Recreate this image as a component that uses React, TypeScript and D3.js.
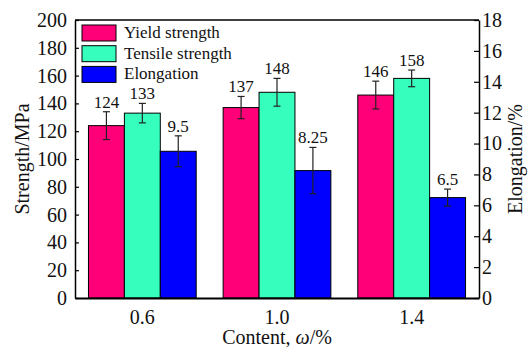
import React, { useRef, useEffect } from 'react';
import * as d3 from 'd3';

// data
const contents = ['0.6', '1.0', '1.4'];
const yieldStrength = [124, 137, 146];
const yieldErr = [10, 8, 10];
const tensileStrength = [133, 148, 158];
const tensileErr = [7, 10, 6];
const elongation = [9.5, 8.25, 6.5];
const elongationErr = [1, 1.5, 0.55];
const elongationLabels = ['9.5', '8.25', '6.5'];

const seriesNames = ['Yield strength', 'Tensile strength', 'Elongation'];
const seriesColors = ['#ff0078', '#36ffbe', '#0000ff'];

const leftTicks = [0, 20, 40, 60, 80, 100, 120, 140, 160, 180, 200];
const rightTicks = [0, 2, 4, 6, 8, 10, 12, 14, 16, 18];

const FONT = 'Liberation Serif, DejaVu Serif, serif';

const App = () => {
    const svgRef = useRef<SVGSVGElement>(null);
    const width = 531;
    const height = 350;

    useEffect(() => {
        const svg = d3.select(svgRef.current)
            .attr('width', width)
            .attr('height', height)
            .attr('font-family', FONT);

        svg.selectAll('*').remove();

        const margin = { top: 20, right: 52, bottom: 52, left: 75 };
        const innerWidth = width - margin.left - margin.right;
        const innerHeight = height - margin.top - margin.bottom;

        const g = svg.append('g')
            .attr('transform', `translate(${margin.left}, ${margin.top})`)
            .attr('font-family', FONT);

        const x0 = d3.scaleBand()
            .domain(contents)
            .range([0, innerWidth])
            .paddingInner(0.2)
            .paddingOuter(0.1);

        const x1 = d3.scaleBand()
            .domain(['0', '1', '2'])
            .range([0, x0.bandwidth()]);

        const yLeft = d3.scaleLinear().domain([0, 200]).range([innerHeight, 0]);
        const yRight = d3.scaleLinear().domain([0, 18]).range([innerHeight, 0]);

        // rows: one per group, three bars each
        const rows = contents.map((c, i) => ([
            { c, s: 0, v: yieldStrength[i], e: yieldErr[i], label: String(yieldStrength[i]), y: yLeft },
            { c, s: 1, v: tensileStrength[i], e: tensileErr[i], label: String(tensileStrength[i]), y: yLeft },
            { c, s: 2, v: elongation[i], e: elongationErr[i], label: elongationLabels[i], y: yRight },
        ]));
        const bars = rows.flat();

        g.selectAll('.bar')
            .data(bars)
            .enter()
            .append('rect')
            .attr('class', 'bar')
            .attr('x', d => x0(d.c)! + x1(String(d.s))!)
            .attr('y', d => d.y(d.v))
            .attr('width', x1.bandwidth())
            .attr('height', d => innerHeight - d.y(d.v))
            .attr('fill', d => seriesColors[d.s])
            .attr('stroke', '#000')
            .attr('stroke-width', 1);

        // error bars
        const cx = d => x0(d.c)! + x1(String(d.s))! + x1.bandwidth() / 2;
        const err = g.selectAll('.err')
            .data(bars)
            .enter()
            .append('g')
            .attr('class', 'err')
            .attr('stroke', '#222')
            .attr('stroke-width', 1.2);
        err.append('line')
            .attr('x1', cx).attr('x2', cx)
            .attr('y1', d => d.y(d.v + d.e))
            .attr('y2', d => d.y(d.v - d.e));
        err.append('line')
            .attr('x1', d => cx(d) - 3.5).attr('x2', d => cx(d) + 3.5)
            .attr('y1', d => d.y(d.v + d.e)).attr('y2', d => d.y(d.v + d.e));
        err.append('line')
            .attr('x1', d => cx(d) - 3.5).attr('x2', d => cx(d) + 3.5)
            .attr('y1', d => d.y(d.v - d.e)).attr('y2', d => d.y(d.v - d.e));

        // value labels
        g.selectAll('.val')
            .data(bars)
            .enter()
            .append('text')
            .attr('class', 'val')
            .attr('x', cx)
            .attr('y', d => d.y(d.v + d.e) - 4)
            .attr('text-anchor', 'middle')
            .attr('font-family', FONT)
            .attr('font-size', 17)
            .attr('fill', '#111')
            .text(d => d.label);

        // axes
        const leftAxis = d3.axisLeft(yLeft)
            .tickValues(leftTicks)
            .tickSizeInner(-4)
            .tickSizeOuter(0)
            .tickPadding(8);
        const gl = g.append('g').call(leftAxis);

        const rightAxis = d3.axisRight(yRight)
            .tickValues(rightTicks)
            .tickSizeInner(-5)
            .tickSizeOuter(0)
            .tickPadding(3);
        const gr = g.append('g')
            .attr('transform', `translate(${innerWidth}, 0)`)
            .call(rightAxis);

        const bottomAxis = d3.axisBottom(x0).tickSize(0).tickPadding(12);
        const gb = g.append('g')
            .attr('transform', `translate(0, ${innerHeight})`)
            .call(bottomAxis);

        [gl, gr, gb].forEach(a => {
            a.attr('font-family', FONT).attr('font-size', 20);
            a.selectAll('text')
                .attr('fill', '#111');
            a.selectAll('line').attr('stroke', '#000').attr('stroke-width', 1.2);
            a.select('.domain').attr('stroke', '#000').attr('stroke-width', 1.5);
        });
        gb.select('.domain').attr('stroke-width', 2);

        // top frame line
        g.append('line')
            .attr('x1', 0).attr('x2', innerWidth)
            .attr('y1', 0).attr('y2', 0)
            .attr('stroke', '#000')
            .attr('stroke-width', 1.5);

        // axis titles
        g.append('text')
            .attr('transform', `translate(${-46}, ${innerHeight / 2}) rotate(-90)`)
            .attr('text-anchor', 'middle')
            .attr('font-family', FONT)
            .attr('font-size', 20)
            .attr('fill', '#111')
            .text('Strength/MPa');

        g.append('text')
            .attr('transform', `translate(${innerWidth + 43}, ${innerHeight / 2}) rotate(-90)`)
            .attr('text-anchor', 'middle')
            .attr('font-family', FONT)
            .attr('font-size', 20)
            .attr('fill', '#111')
            .text('Elongation/%');

        const xt = g.append('text')
            .attr('x', innerWidth / 2)
            .attr('y', innerHeight + 46)
            .attr('text-anchor', 'middle')
            .attr('font-family', FONT)
            .attr('font-size', 20)
            .attr('fill', '#111');
        xt.append('tspan').text('Content, ');
        xt.append('tspan').attr('font-style', 'italic').text('ω');
        xt.append('tspan').text('/%');

        // legend
        const legend = g.append('g').attr('transform', 'translate(7, 5)');
        const item = legend.selectAll('.leg')
            .data(seriesNames)
            .enter()
            .append('g')
            .attr('class', 'leg')
            .attr('transform', (d, i) => `translate(0, ${i * 20.7})`);
        item.append('rect')
            .attr('width', 34)
            .attr('height', 16)
            .attr('fill', (d, i) => seriesColors[i])
            .attr('stroke', '#000')
            .attr('stroke-width', 1);
        item.append('text')
            .attr('x', 42)
            .attr('y', 13)
            .attr('font-family', FONT)
            .attr('font-size', 17)
            .attr('fill', '#111')
            .text(d => d);
    }, []);

    return (
        <svg ref={svgRef} style={{ position: 'absolute', left: 0, top: 0, background: '#fff' }}></svg>
    );
};

export default App;
